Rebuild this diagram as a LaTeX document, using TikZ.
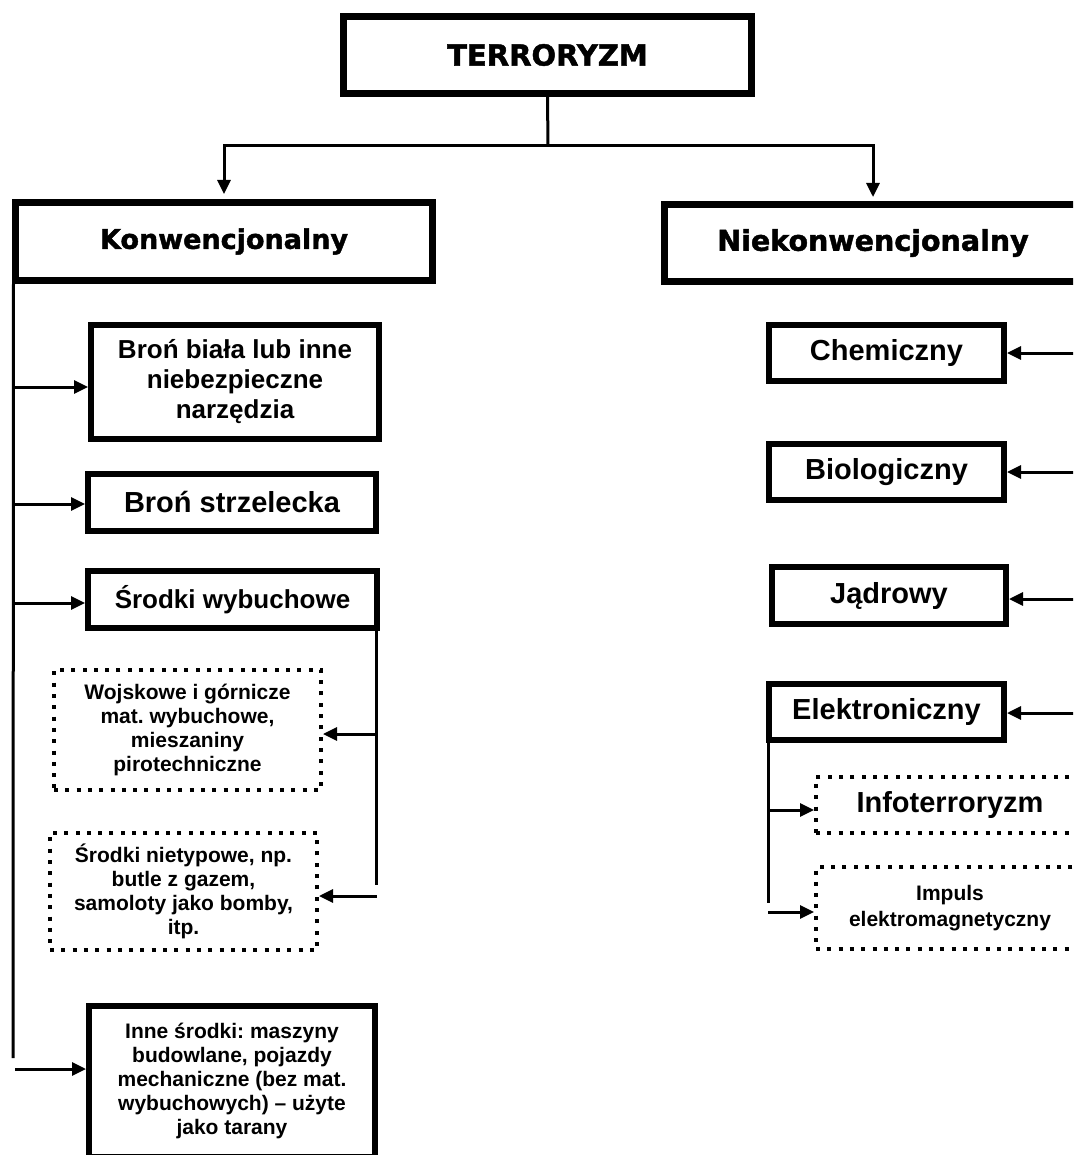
\documentclass[tikz,border=0pt]{standalone}
\usepackage{fontspec}
\setmainfont{Liberation Sans}
\newfontfamily\hdrfont{DejaVu Sans Bold}[FakeBold=1.6]
\usetikzlibrary{arrows.meta,calc}
\frenchspacing
\begin{document}
\begin{tikzpicture}[x=1pt,y=-1pt,
  conn/.style={line width=3pt},
  arr/.style={conn,-{Triangle[length=14pt,width=13pt]}},
  hbox/.style={draw,line width=7pt,outer sep=3.5pt,inner sep=0pt,font=\hdrfont\fontsize{28.5}{32}\selectfont},
  sbox/.style={draw,line width=6pt,outer sep=3pt,inner sep=0pt,align=center,font=\bfseries\fontsize{29}{33}\selectfont},
  dbox/.style={draw,line width=4pt,outer sep=2pt,inner sep=0pt,align=center,dash pattern=on 4pt off 7.3pt,font=\bfseries\fontsize{21}{24}\selectfont},
]
\useasboundingbox (0,0) rectangle (1073,1155);
\clip (0,0) rectangle (1073,1155);

% header boxes
\node[hbox,minimum width=408pt,minimum height=77pt,font=\hdrfont\fontsize{29}{32}\selectfont] (T) at (547.5,55) {TERRORYZM};
\node[hbox,minimum width=417pt,minimum height=78pt,font=\hdrfont\fontsize{27}{32}\selectfont] (K) at (224,241.5) {Konwencjonalny};
\node[hbox,minimum width=417pt,minimum height=77pt] (N) at (873,243) {Niekonwencjonalny};

% left column
\node[sbox,minimum width=288pt,minimum height=114pt,font=\bfseries\fontsize{26}{30}\selectfont] (B1) at (235,382) {Broń biała lub inne\\niebezpieczne\\narzędzia};
\node[sbox,minimum width=288pt,minimum height=57pt] (B2) at (232,502.5) {Broń strzelecka};
\node[sbox,minimum width=289pt,minimum height=57pt,font=\bfseries\fontsize{26}{30}\selectfont] (B3) at (232.5,599.5) {Środki wybuchowe};
\node[dbox,minimum width=267pt,minimum height=120pt] (W1) at (187.5,730) {Wojskowe i górnicze\\mat. wybuchowe,\\mieszaniny\\pirotechniczne};
\node[dbox,minimum width=267pt,minimum height=117pt] (W2) at (183.5,891.5) {Środki nietypowe, np.\\butle z gazem,\\samoloty jako bomby,\\itp.};
\node[sbox,minimum width=286pt,minimum height=151pt,font=\bfseries\fontsize{21}{24}\selectfont] (B4) at (232,1081) {Inne środki: maszyny\\budowlane, pojazdy\\mechaniczne (bez mat.\\wybuchowych) – użyte\\jako tarany};

% right column
\node[sbox,minimum width=235pt,minimum height=56pt] (C1) at (886.5,353) {Chemiczny};
\node[sbox,minimum width=235pt,minimum height=56pt] (C2) at (886.5,472) {Biologiczny};
\node[sbox,minimum width=234pt,minimum height=57pt] (C3) at (889,595.5) {Jądrowy};
\node[sbox,minimum width=235pt,minimum height=56pt] (C4) at (886.5,712) {Elektroniczny};
\node[dbox,minimum width=268pt,minimum height=56pt,font=\bfseries\fontsize{29}{33}\selectfont] (D1) at (950,805) {Infoterroryzm};
\node[dbox,minimum width=268pt,minimum height=82pt,font=\bfseries\fontsize{21}{26}\selectfont] (D2) at (950,908) {Impuls\\elektromagnetyczny};

% top connectors
\coordinate (split) at (548,146);
\draw[conn] (T.south) -- (split);
\draw[arr,shorten >=5pt] (split) -| (K.north);
\draw[arr,shorten >=4pt] (split) -| (N.north);

% left spine
\coordinate (ks) at ($(K.south west)+(1.5,0)$);
\coordinate (ke) at (13,1058);
\draw[conn] (ks) -- (ke);
\coordinate (a1) at ([yshift=-5pt]B1.west);
\coordinate (a2) at ([yshift=-1.5pt]B2.west);
\coordinate (a3) at ([yshift=-3.5pt]B3.west);
\coordinate (a4) at ([yshift=12pt]B4.west);
\coordinate (a4s) at (15,1069);
\draw[arr] (ks |- a1) -- (a1);
\draw[arr] (ks |- a2) -- (a2);
\draw[arr] (ks |- a3) -- (a3);
\draw[arr] (a4s) -- (a4);

% explosive sub-spine
\coordinate (ws) at ($(B3.south east)+(-4,0)$);
\coordinate (we) at (376,885);
\draw[conn] (ws) -- (we);
\coordinate (w1) at ([yshift=-4pt]W1.east);
\coordinate (w2) at ([yshift=-4.5pt]W2.east);
\coordinate (w2s) at (377,896);
\draw[arr] (ws |- w1) -- (w1);
\draw[arr] (w2s) -- (w2);

% right arrows
\coordinate (rx) at (1080,0);
\coordinate (c3) at ([yshift=-3.5pt]C3.east);
\coordinate (c4) at ([yshift=-1pt]C4.east);
\draw[arr] (C1.east -| rx) -- (C1.east);
\draw[arr] (C2.east -| rx) -- (C2.east);
\draw[arr] (c3 -| rx) -- (c3);
\draw[arr] (c4 -| rx) -- (c4);

% electronic sub-spine
\coordinate (es) at ($(C4.south west)+(2,0)$);
\coordinate (ee) at (768,903);
\draw[conn] (es) -- (ee);
\coordinate (d1) at ([yshift=-5pt]D1.west);
\coordinate (d2) at ([yshift=-4pt]D2.west);
\coordinate (d2s) at (768,912);
\draw[arr] (es |- d1) -- (d1);
\draw[arr] (d2s) -- (d2);
\end{tikzpicture}
\end{document}
